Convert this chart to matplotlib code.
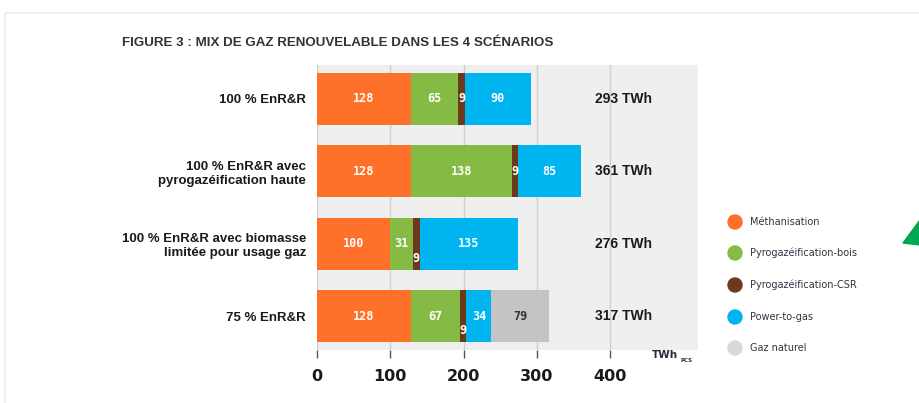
import matplotlib.pyplot as plt
import numpy as np
from matplotlib.patches import Polygon, Rectangle, Circle

scenarios = ["100 % EnR&R",
             "100 % EnR&R avec\npyrogazéification haute",
             "100 % EnR&R avec biomasse\nlimitée pour usage gaz",
             "75 % EnR&R"]
sources = ["Méthanisation", "Pyrogazéification-bois", "Pyrogazéification-CSR",
           "Power-to-gas", "Gaz naturel"]
methanisation = [128, 128, 100, 128]
pyro_bois = [65, 138, 31, 67]
pyro_csr = [9, 9, 9, 9]
power_to_gas = [90, 85, 135, 34]
gaz_naturel = [0, 0, 0, 79]
totals = ["293 TWh", "361 TWh", "276 TWh", "317 TWh"]

colors = ['#ff7029', '#85bb45', '#6b3a1c', '#00b5ef', '#c4c4c6']
legend_colors = ['#ff7029', '#85bb45', '#6b3a1c', '#00b5ef', '#d6d9d9']
series = [methanisation, pyro_bois, pyro_csr, power_to_gas, gaz_naturel]

W, H = 920, 403
fig = plt.figure(figsize=(W / 100, H / 100), dpi=100)

# overlay in pixel coordinates for decorations
deco = fig.add_axes([0, 0, 1, 1], zorder=-1)
deco.set_xlim(0, W)
deco.set_ylim(H, 0)
deco.axis('off')
deco.add_patch(Rectangle((5, 13), W, H, fill=False, edgecolor='#f0f0f0', linewidth=1.5))
deco.add_patch(Polygon([(903, 243), (920, 220), (920, 245)], closed=True, color='#00a651'))

ax = fig.add_axes([317 / W, 1 - 350 / H, 381 / W, 285 / H])
ax.set_facecolor('#efefef')

y = np.arange(len(scenarios))
left = np.zeros(len(scenarios))
for s, vals in enumerate(series):
    vals = np.array(vals, dtype=float)
    ax.barh(y, vals, left=left, height=0.72, color=colors[s], zorder=3)
    for i, v in enumerate(vals):
        if v == 0:
            continue
        cx = left[i] + v / 2
        cy = y[i]
        if s == 2 and i >= 2:
            cy = y[i] + 0.2
        tc = '#333333' if s == 4 else 'white'
        ax.text(cx, cy, "%d" % v, ha='center', va='center', color=tc,
                fontsize=8.5, fontweight='bold', family='DejaVu Sans Mono', zorder=4)
    left += vals

for i, t in enumerate(totals):
    ax.text(380, y[i], t, ha='left', va='center', fontsize=10, fontweight='bold',
            color='#1a1a1a', family='Liberation Sans')

ax.set_xlim(0, 520)
ax.set_ylim(3.47, -0.47)
ax.set_xticks([0, 100, 200, 300, 400])
ax.xaxis.grid(True, color='#d0d0d0', linewidth=1, zorder=0)
ax.set_axisbelow(True)
ax.set_yticks(y)
ax.set_yticklabels(scenarios, fontsize=9.5, fontweight='bold', color='#1a1a1a',
                   family='Liberation Sans')
ax.tick_params(axis='y', length=0, pad=8)
ax.tick_params(axis='x', length=6, width=1, color='#555555', pad=8,
               labelsize=11.5, labelcolor='#1a1a1a')
for lbl in ax.get_xticklabels():
    lbl.set_fontweight('bold')
for sp in ax.spines.values():
    sp.set_visible(False)

# unit label
deco.text(652, 355, "TWh", fontsize=7.5, fontweight='bold', color='#2a2a3a',
          ha='left', va='center')
deco.text(681, 360, "PCS", fontsize=4, fontweight='bold', color='#2a2a3a',
          ha='left', va='center')

# title
deco.text(122, 43, "FIGURE 3 : MIX DE GAZ RENOUVELABLE DANS LES 4 SCÉNARIOS",
          fontsize=9.6, fontweight='bold', color='#333333', ha='left', va='center',
          family='Liberation Sans')

# legend
ly = [222, 253, 285, 317, 348]
for c, name, yy in zip(legend_colors, sources, ly):
    deco.add_patch(Circle((735, yy), 7, color=c))
    deco.text(750, yy, name, fontsize=7, color='#333344', ha='left', va='center')

fig.savefig('out.png', dpi=100)
